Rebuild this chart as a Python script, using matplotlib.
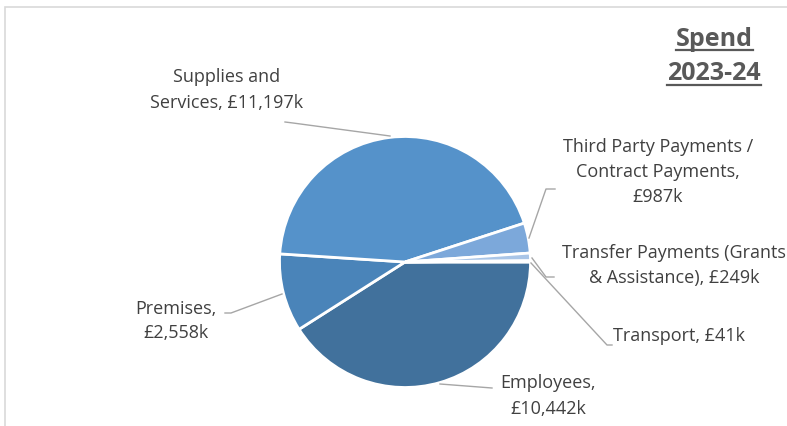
import matplotlib.pyplot as plt
from matplotlib.patches import Rectangle

plt.rcParams['font.family'] = ['Open Sans', 'DejaVu Sans']

# spend by category, £k (drawn clockwise from 3 o'clock)
categories = ['Employees', 'Premises', 'Supplies and\nServices',
              'Third Party Payments /\nContract Payments',
              'Transfer Payments (Grants\n& Assistance)', 'Transport']
spend = [10442, 2558, 11197, 987, 249, 41]
labels = ['Employees,\n£10,442k', 'Premises,\n£2,558k',
          'Supplies and\nServices, £11,197k',
          'Third Party Payments /\nContract Payments,\n£987k',
          'Transfer Payments (Grants\n& Assistance), £249k',
          'Transport, £41k']
colors = ['#41719C', '#4A84B9', '#5592CA', '#7CA8DA', '#A9C5E7', '#C5D8EF']

W, H = 787, 426
fig = plt.figure(figsize=(W / 100, H / 100), dpi=100)
ax = fig.add_axes([0, 0, 1, 1])


def Y(y):
    return H - y


cx, cy, r = 405, 262, 125.5
ax.pie(spend, colors=colors, startangle=0, counterclock=False,
       center=(cx, Y(cy)), radius=r, frame=True,
       wedgeprops=dict(edgecolor='white', linewidth=2))
ax.set_xlim(0, W)
ax.set_ylim(0, H)
ax.set_aspect('equal')
ax.axis('off')

# chart frame (only top and left edges fall inside the image)
ax.add_patch(Rectangle((5, -20), W + 40, Y(7) + 20, fill=False,
                       edgecolor='#D9D9D9', linewidth=1.2))

txt = dict(color='#404040', fontsize=13, linespacing=1.5)
# label text: (x, y, ha) in pixels
label_pos = [(548, 396, 'center'), (176, 321, 'center'), (227, 90, 'center'),
             (658, 172, 'center'), (674, 266, 'center'), (613, 336, 'left')]
for lab, (x, y, ha) in zip(labels, label_pos):
    ax.text(x, Y(y), lab, ha=ha, va='center', multialignment='center', **txt)

# leader lines
leaders = [
    [(440, 384), (492, 388)],
    [(225, 313), (231, 313), (282, 294)],
    [(285, 122), (293, 123), (390, 136)],
    [(555, 189), (546, 189), (529, 238)],
    [(554, 277), (546, 277), (532, 258)],
    [(531, 263), (607, 345), (612, 345)],
]
for pts in leaders:
    xs = [p[0] for p in pts]
    ys = [Y(p[1]) for p in pts]
    ax.plot(xs, ys, color='#A6A6A6', linewidth=1)

# title with underlines
t1 = ax.text(714, Y(39), 'Spend', ha='center', va='center', fontsize=18,
             fontweight='bold', color='#595959')
t2 = ax.text(714, Y(74), '2023-24', ha='center', va='center', fontsize=18,
             fontweight='bold', color='#595959')
fig.canvas.draw()
inv = ax.transData.inverted()
for t in (t1, t2):
    bb = t.get_window_extent()
    (x0, y0), (x1, y1) = inv.transform([(bb.x0, bb.y0), (bb.x1, bb.y1)])
    ax.plot([x0, x1], [y0 + 2, y0 + 2], color='#595959', linewidth=1.6)

fig.savefig('out.png', dpi=100)
